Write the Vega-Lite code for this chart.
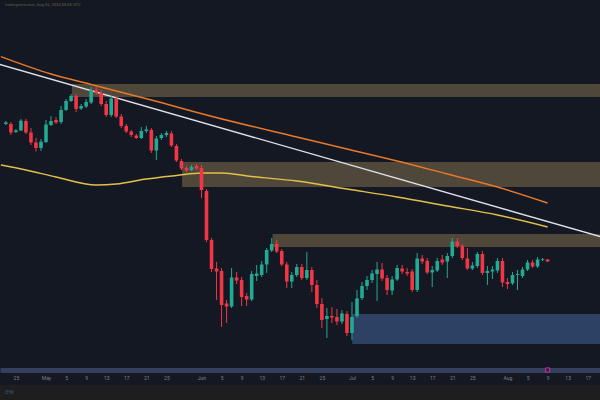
{
  "$schema": "https://vega.github.io/schema/vega-lite/v6.json",
  "width": 600,
  "height": 370,
  "padding": {"left": 0, "top": 0, "right": 0, "bottom": 30},
  "autosize": {"type": "none"},
  "background": "#141823",
  "datasets": {
    "candles": [
      {"d": "2024-04-23", "o": 124, "h": 121, "l": 125, "c": 122.5},
      {"d": "2024-04-24", "o": 124, "h": 122, "l": 135, "c": 132.5},
      {"d": "2024-04-25", "o": 132, "h": 129, "l": 133, "c": 130.5},
      {"d": "2024-04-26", "o": 130.5, "h": 119, "l": 131, "c": 120.7},
      {"d": "2024-04-27", "o": 121, "h": 119, "l": 134, "c": 132.5},
      {"d": "2024-04-28", "o": 132.5, "h": 128, "l": 145, "c": 142.5},
      {"d": "2024-04-29", "o": 142.5, "h": 138, "l": 151.5, "c": 148},
      {"d": "2024-04-30", "o": 148, "h": 139, "l": 151, "c": 141.7},
      {"d": "2024-05-01", "o": 142, "h": 120, "l": 143, "c": 124.5},
      {"d": "2024-05-02", "o": 125, "h": 116, "l": 126, "c": 121},
      {"d": "2024-05-03", "o": 120, "h": 117, "l": 124, "c": 122.5},
      {"d": "2024-05-04", "o": 122, "h": 106, "l": 124, "c": 110},
      {"d": "2024-05-05", "o": 110, "h": 99, "l": 111, "c": 101},
      {"d": "2024-05-06", "o": 101, "h": 94, "l": 102, "c": 96},
      {"d": "2024-05-07", "o": 96, "h": 94, "l": 112, "c": 109},
      {"d": "2024-05-08", "o": 108.5, "h": 104, "l": 110, "c": 106},
      {"d": "2024-05-09", "o": 106.5, "h": 99, "l": 108, "c": 102},
      {"d": "2024-05-10", "o": 102.5, "h": 87, "l": 104, "c": 90},
      {"d": "2024-05-11", "o": 89.5, "h": 87, "l": 95, "c": 93},
      {"d": "2024-05-12", "o": 93, "h": 90, "l": 106, "c": 104},
      {"d": "2024-05-13", "o": 104, "h": 101, "l": 117, "c": 115},
      {"d": "2024-05-14", "o": 115, "h": 96, "l": 117, "c": 98.5},
      {"d": "2024-05-15", "o": 98.5, "h": 96, "l": 118, "c": 116.5},
      {"d": "2024-05-16", "o": 116.5, "h": 114, "l": 128, "c": 126},
      {"d": "2024-05-17", "o": 126, "h": 124, "l": 133, "c": 131.5},
      {"d": "2024-05-18", "o": 131.5, "h": 130, "l": 137, "c": 135},
      {"d": "2024-05-19", "o": 135.5, "h": 134, "l": 139, "c": 138},
      {"d": "2024-05-20", "o": 138, "h": 127, "l": 139, "c": 131},
      {"d": "2024-05-21", "o": 131, "h": 126, "l": 133, "c": 129.5},
      {"d": "2024-05-22", "o": 130, "h": 128, "l": 153, "c": 150.5},
      {"d": "2024-05-23", "o": 150.5, "h": 136, "l": 160, "c": 138.5},
      {"d": "2024-05-24", "o": 138, "h": 133, "l": 140, "c": 135},
      {"d": "2024-05-25", "o": 135, "h": 131, "l": 137, "c": 133},
      {"d": "2024-05-26", "o": 133.5, "h": 131, "l": 147, "c": 145.5},
      {"d": "2024-05-27", "o": 146, "h": 144, "l": 162, "c": 160.5},
      {"d": "2024-05-28", "o": 161, "h": 159, "l": 170, "c": 168.5},
      {"d": "2024-05-29", "o": 168, "h": 166, "l": 172, "c": 170.5},
      {"d": "2024-05-30", "o": 170, "h": 165, "l": 171, "c": 167},
      {"d": "2024-05-31", "o": 166, "h": 164, "l": 170, "c": 168.5},
      {"d": "2024-06-01", "o": 168, "h": 165, "l": 198, "c": 190},
      {"d": "2024-06-02", "o": 191, "h": 189, "l": 242, "c": 240},
      {"d": "2024-06-03", "o": 240, "h": 238, "l": 272, "c": 269},
      {"d": "2024-06-04", "o": 268.5, "h": 262, "l": 300, "c": 271.5},
      {"d": "2024-06-05", "o": 271, "h": 268, "l": 327, "c": 305},
      {"d": "2024-06-06", "o": 303.5, "h": 300, "l": 323, "c": 306.5},
      {"d": "2024-06-07", "o": 306.5, "h": 268, "l": 308, "c": 277.5},
      {"d": "2024-06-08", "o": 277.5, "h": 272, "l": 284, "c": 280.5},
      {"d": "2024-06-09", "o": 280, "h": 277, "l": 306, "c": 297},
      {"d": "2024-06-10", "o": 296, "h": 293, "l": 306, "c": 299.5},
      {"d": "2024-06-11", "o": 299.5, "h": 271, "l": 301, "c": 274},
      {"d": "2024-06-12", "o": 276, "h": 265, "l": 281, "c": 273.5},
      {"d": "2024-06-13", "o": 275, "h": 261, "l": 277, "c": 264.5},
      {"d": "2024-06-14", "o": 264.5, "h": 248, "l": 273, "c": 250},
      {"d": "2024-06-15", "o": 250.5, "h": 238, "l": 252, "c": 244},
      {"d": "2024-06-16", "o": 244, "h": 240, "l": 253, "c": 251.5},
      {"d": "2024-06-17", "o": 251, "h": 249, "l": 266, "c": 264.5},
      {"d": "2024-06-18", "o": 264.5, "h": 262, "l": 288, "c": 281.5},
      {"d": "2024-06-19", "o": 281.5, "h": 272, "l": 288, "c": 275},
      {"d": "2024-06-20", "o": 275, "h": 264, "l": 277, "c": 267},
      {"d": "2024-06-21", "o": 267, "h": 264, "l": 280, "c": 278},
      {"d": "2024-06-22", "o": 278, "h": 252, "l": 280, "c": 270},
      {"d": "2024-06-23", "o": 270, "h": 267, "l": 292, "c": 285},
      {"d": "2024-06-24", "o": 285, "h": 280, "l": 308, "c": 304},
      {"d": "2024-06-25", "o": 304, "h": 298, "l": 328, "c": 320},
      {"d": "2024-06-26", "o": 319, "h": 308, "l": 338, "c": 316},
      {"d": "2024-06-27", "o": 316, "h": 307, "l": 323, "c": 317.5},
      {"d": "2024-06-28", "o": 317, "h": 309, "l": 325, "c": 321.5},
      {"d": "2024-06-29", "o": 321.5, "h": 310, "l": 324, "c": 313.5},
      {"d": "2024-06-30", "o": 314, "h": 311, "l": 336, "c": 333},
      {"d": "2024-07-01", "o": 333, "h": 302, "l": 340, "c": 317},
      {"d": "2024-07-02", "o": 316, "h": 290, "l": 318, "c": 298.5},
      {"d": "2024-07-03", "o": 298, "h": 282, "l": 300, "c": 286},
      {"d": "2024-07-04", "o": 286, "h": 276, "l": 290, "c": 280},
      {"d": "2024-07-05", "o": 280, "h": 270, "l": 283, "c": 273.5},
      {"d": "2024-07-06", "o": 274, "h": 262, "l": 301, "c": 269.5},
      {"d": "2024-07-07", "o": 269.5, "h": 263, "l": 281, "c": 278.5},
      {"d": "2024-07-08", "o": 278, "h": 275, "l": 295, "c": 290},
      {"d": "2024-07-09", "o": 290.5, "h": 276, "l": 295, "c": 279.5},
      {"d": "2024-07-10", "o": 279.5, "h": 265, "l": 281, "c": 268},
      {"d": "2024-07-11", "o": 268.5, "h": 265, "l": 274, "c": 271.5},
      {"d": "2024-07-12", "o": 272, "h": 268, "l": 276, "c": 273.5},
      {"d": "2024-07-13", "o": 271.5, "h": 269, "l": 292, "c": 290},
      {"d": "2024-07-14", "o": 290, "h": 253, "l": 292, "c": 258.5},
      {"d": "2024-07-15", "o": 258.5, "h": 255, "l": 264, "c": 261.5},
      {"d": "2024-07-16", "o": 261, "h": 258, "l": 274, "c": 272.5},
      {"d": "2024-07-17", "o": 272.5, "h": 266, "l": 287, "c": 270},
      {"d": "2024-07-18", "o": 270.5, "h": 258, "l": 272, "c": 261},
      {"d": "2024-07-19", "o": 259.5, "h": 255, "l": 265, "c": 262.5},
      {"d": "2024-07-20", "o": 261.5, "h": 253, "l": 278, "c": 256},
      {"d": "2024-07-21", "o": 256, "h": 238, "l": 258, "c": 241.7},
      {"d": "2024-07-22", "o": 241.5, "h": 238, "l": 248, "c": 246},
      {"d": "2024-07-23", "o": 246, "h": 244, "l": 260, "c": 258},
      {"d": "2024-07-24", "o": 258.5, "h": 248, "l": 270, "c": 268.5},
      {"d": "2024-07-25", "o": 268.5, "h": 262, "l": 270, "c": 265.5},
      {"d": "2024-07-26", "o": 266, "h": 252, "l": 268, "c": 254},
      {"d": "2024-07-27", "o": 254, "h": 251, "l": 275, "c": 273},
      {"d": "2024-07-28", "o": 273, "h": 266, "l": 285, "c": 271},
      {"d": "2024-07-29", "o": 271.5, "h": 266, "l": 279, "c": 269.5},
      {"d": "2024-07-30", "o": 270.5, "h": 258, "l": 273, "c": 261},
      {"d": "2024-07-31", "o": 261, "h": 258, "l": 287, "c": 282.5},
      {"d": "2024-08-01", "o": 282, "h": 278, "l": 289, "c": 284},
      {"d": "2024-08-02", "o": 283.3, "h": 272, "l": 285, "c": 275},
      {"d": "2024-08-03", "o": 275, "h": 270, "l": 290, "c": 274},
      {"d": "2024-08-04", "o": 276, "h": 267, "l": 278, "c": 269.5},
      {"d": "2024-08-05", "o": 269.5, "h": 260, "l": 271, "c": 262.5},
      {"d": "2024-08-06", "o": 262.5, "h": 260, "l": 268, "c": 266.5},
      {"d": "2024-08-07", "o": 266.5, "h": 257, "l": 268, "c": 259.5},
      {"d": "2024-08-08", "o": 260, "h": 258, "l": 261, "c": 259.3},
      {"d": "2024-08-09", "o": 259.5, "h": 259, "l": 262, "c": 261.5}
    ],
    "zones": [
      {"d": "2024-05-06T04:00:00Z", "e": "2024-08-25", "p": 84, "p2": 97, "kind": "supply"},
      {"d": "2024-05-28T03:00:00Z", "e": "2024-08-25", "p": 162, "p2": 187, "kind": "supply"},
      {"d": "2024-06-15T04:00:00Z", "e": "2024-08-25", "p": 234, "p2": 247, "kind": "supply"},
      {"d": "2024-07-01T01:00:00Z", "e": "2024-08-25", "p": 314, "p2": 344, "kind": "demand"}
    ],
    "lines": [
      {"d": "2024-04-20", "p": 61.9, "s": "trend"},
      {"d": "2024-08-21", "p": 238.8, "s": "trend"},
      {"d": "2024-04-22", "p": 56.6, "s": "ma200"},
      {"d": "2024-05-02", "p": 74, "s": "ma200"},
      {"d": "2024-05-10", "p": 84.5, "s": "ma200"},
      {"d": "2024-05-22", "p": 100, "s": "ma200"},
      {"d": "2024-06-02", "p": 115, "s": "ma200"},
      {"d": "2024-06-20", "p": 137, "s": "ma200"},
      {"d": "2024-06-30", "p": 149, "s": "ma200"},
      {"d": "2024-07-10", "p": 161, "s": "ma200"},
      {"d": "2024-07-20", "p": 174, "s": "ma200"},
      {"d": "2024-07-30", "p": 187, "s": "ma200"},
      {"d": "2024-08-09", "p": 203, "s": "ma200"},
      {"d": "2024-04-22", "p": 165, "s": "ma100"},
      {"d": "2024-04-27", "p": 170, "s": "ma100"},
      {"d": "2024-05-03", "p": 177, "s": "ma100"},
      {"d": "2024-05-11", "p": 185, "s": "ma100"},
      {"d": "2024-05-15", "p": 184, "s": "ma100"},
      {"d": "2024-05-21", "p": 179, "s": "ma100"},
      {"d": "2024-05-27", "p": 175.5, "s": "ma100"},
      {"d": "2024-06-01", "p": 173, "s": "ma100"},
      {"d": "2024-06-05", "p": 173, "s": "ma100"},
      {"d": "2024-06-11", "p": 176.5, "s": "ma100"},
      {"d": "2024-06-20", "p": 181, "s": "ma100"},
      {"d": "2024-06-30", "p": 189, "s": "ma100"},
      {"d": "2024-07-10", "p": 197, "s": "ma100"},
      {"d": "2024-07-20", "p": 206, "s": "ma100"},
      {"d": "2024-07-30", "p": 215, "s": "ma100"},
      {"d": "2024-08-09", "p": 227, "s": "ma100"}
    ]
  },
  "encoding": {
    "x": {
      "field": "d",
      "type": "temporal",
      "scale": {"type": "utc", "domain": ["2024-04-22T19:48:00Z", "2024-08-18T10:48:00Z"], "nice": false},
      "axis": {
        "title": null,
        "grid": false,
        "ticks": false,
        "domainColor": "#34405e",
        "domainWidth": 5,
        "domainCap": "butt",
        "labelColor": "#7d818c",
        "labelFontSize": 5,
        "labelFont": "Roboto",
        "labelPadding": 5,
        "labelOverlap": false,
        "labelFlush": false,
        "labelBound": false,
        "values": [
          "2024-04-25", "2024-05-01", "2024-05-05", "2024-05-09", "2024-05-13", "2024-05-17", "2024-05-21", "2024-05-25",
          "2024-06-01", "2024-06-05", "2024-06-09", "2024-06-13", "2024-06-17", "2024-06-21", "2024-06-25",
          "2024-07-01", "2024-07-05", "2024-07-09", "2024-07-13", "2024-07-17", "2024-07-21", "2024-07-25",
          "2024-08-01", "2024-08-05", "2024-08-09", "2024-08-13", "2024-08-17"
        ],
        "labelExpr": "utcdate(datum.value) == 1 ? utcFormat(datum.value, '%b') : utcFormat(datum.value, '%-d')"
      }
    }
  },
  "layer": [
    {
      "data": {"name": "zones"},
      "mark": {"type": "rect", "clip": true},
      "encoding": {
        "x2": {"field": "e"},
        "y": {"field": "p", "type": "quantitative", "scale": {"domain": [0, 370], "reverse": true, "nice": false, "zero": false}, "axis": null},
        "y2": {"field": "p2"},
        "color": {
          "field": "kind",
          "type": "nominal",
          "scale": {"domain": ["supply", "demand"], "range": ["#4f473a", "#2d4164"]},
          "legend": null
        }
      }
    },
    {
      "data": {"name": "lines"},
      "mark": {"type": "line", "clip": true, "strokeWidth": 1.4, "interpolate": "monotone"},
      "encoding": {
        "y": {"field": "p", "type": "quantitative", "scale": {"domain": [0, 370], "reverse": true, "nice": false, "zero": false}, "axis": null},
        "detail": {"field": "s"},
        "stroke": {
          "field": "s",
          "type": "nominal",
          "scale": {"domain": ["trend", "ma200", "ma100"], "range": ["#dfe2ea", "#e8782a", "#e3c04a"]},
          "legend": null
        }
      }
    },
    {
      "data": {"name": "candles"},
      "mark": {"type": "rule", "strokeWidth": 1},
      "encoding": {
        "y": {"field": "h", "type": "quantitative", "scale": {"domain": [0, 370], "reverse": true, "nice": false, "zero": false}, "axis": null},
        "y2": {"field": "l"},
        "stroke": {"condition": {"test": "datum.c < datum.o", "value": "#22ab94"}, "value": "#f23645"}
      }
    },
    {
      "data": {"name": "candles"},
      "mark": {"type": "bar", "size": 3.6},
      "encoding": {
        "y": {"field": "o", "type": "quantitative", "scale": {"domain": [0, 370], "reverse": true, "nice": false, "zero": false}, "axis": null},
        "y2": {"field": "c"},
        "fill": {"condition": {"test": "datum.c < datum.o", "value": "#22ab94"}, "value": "#f23645"}
      }
    },
    {
      "data": {"values": [{"d": "2024-04-15", "e": "2024-08-25", "p": 385, "p2": 400}]},
      "mark": {"type": "rect", "clip": false, "color": "#1e1e1f"},
      "encoding": {
        "x2": {"field": "e"},
        "y": {"field": "p", "type": "quantitative", "scale": {"domain": [0, 370], "reverse": true, "nice": false, "zero": false}, "axis": null},
        "y2": {"field": "p2"}
      }
    },
    {
      "data": {"values": [
        {"d": "2024-04-22T20:00:00Z", "p": 5, "t": "tradingview.com, Aug 06, 2024 08:55 UTC", "k": "head"},
        {"d": "2024-04-22T20:00:00Z", "p": 391.5, "t": "ew", "k": "foot"}
      ]},
      "mark": {"type": "text", "align": "left", "baseline": "middle", "clip": false, "font": "Roboto", "fontWeight": "bold"},
      "encoding": {
        "y": {"field": "p", "type": "quantitative", "scale": {"domain": [0, 370], "reverse": true, "nice": false, "zero": false}, "axis": null},
        "text": {"field": "t"},
        "size": {"field": "k", "type": "nominal", "scale": {"domain": ["head", "foot"], "range": [4, 7]}, "legend": null},
        "color": {"field": "k", "type": "nominal", "scale": {"domain": ["head", "foot"], "range": ["#8d919c", "#f0f0f0"]}, "legend": null}
      }
    },
    {
      "data": {"values": [{"d": "2024-08-09", "p": 370}]},
      "mark": {"type": "point", "shape": "square", "filled": true, "size": 18, "clip": false, "fill": "#4a1942", "stroke": "#b0399f", "strokeWidth": 1, "opacity": 1},
      "encoding": {
        "y": {"field": "p", "type": "quantitative", "scale": {"domain": [0, 370], "reverse": true, "nice": false, "zero": false}, "axis": null}
      }
    }
  ],
  "config": {
    "view": {"stroke": null}
  }
}
